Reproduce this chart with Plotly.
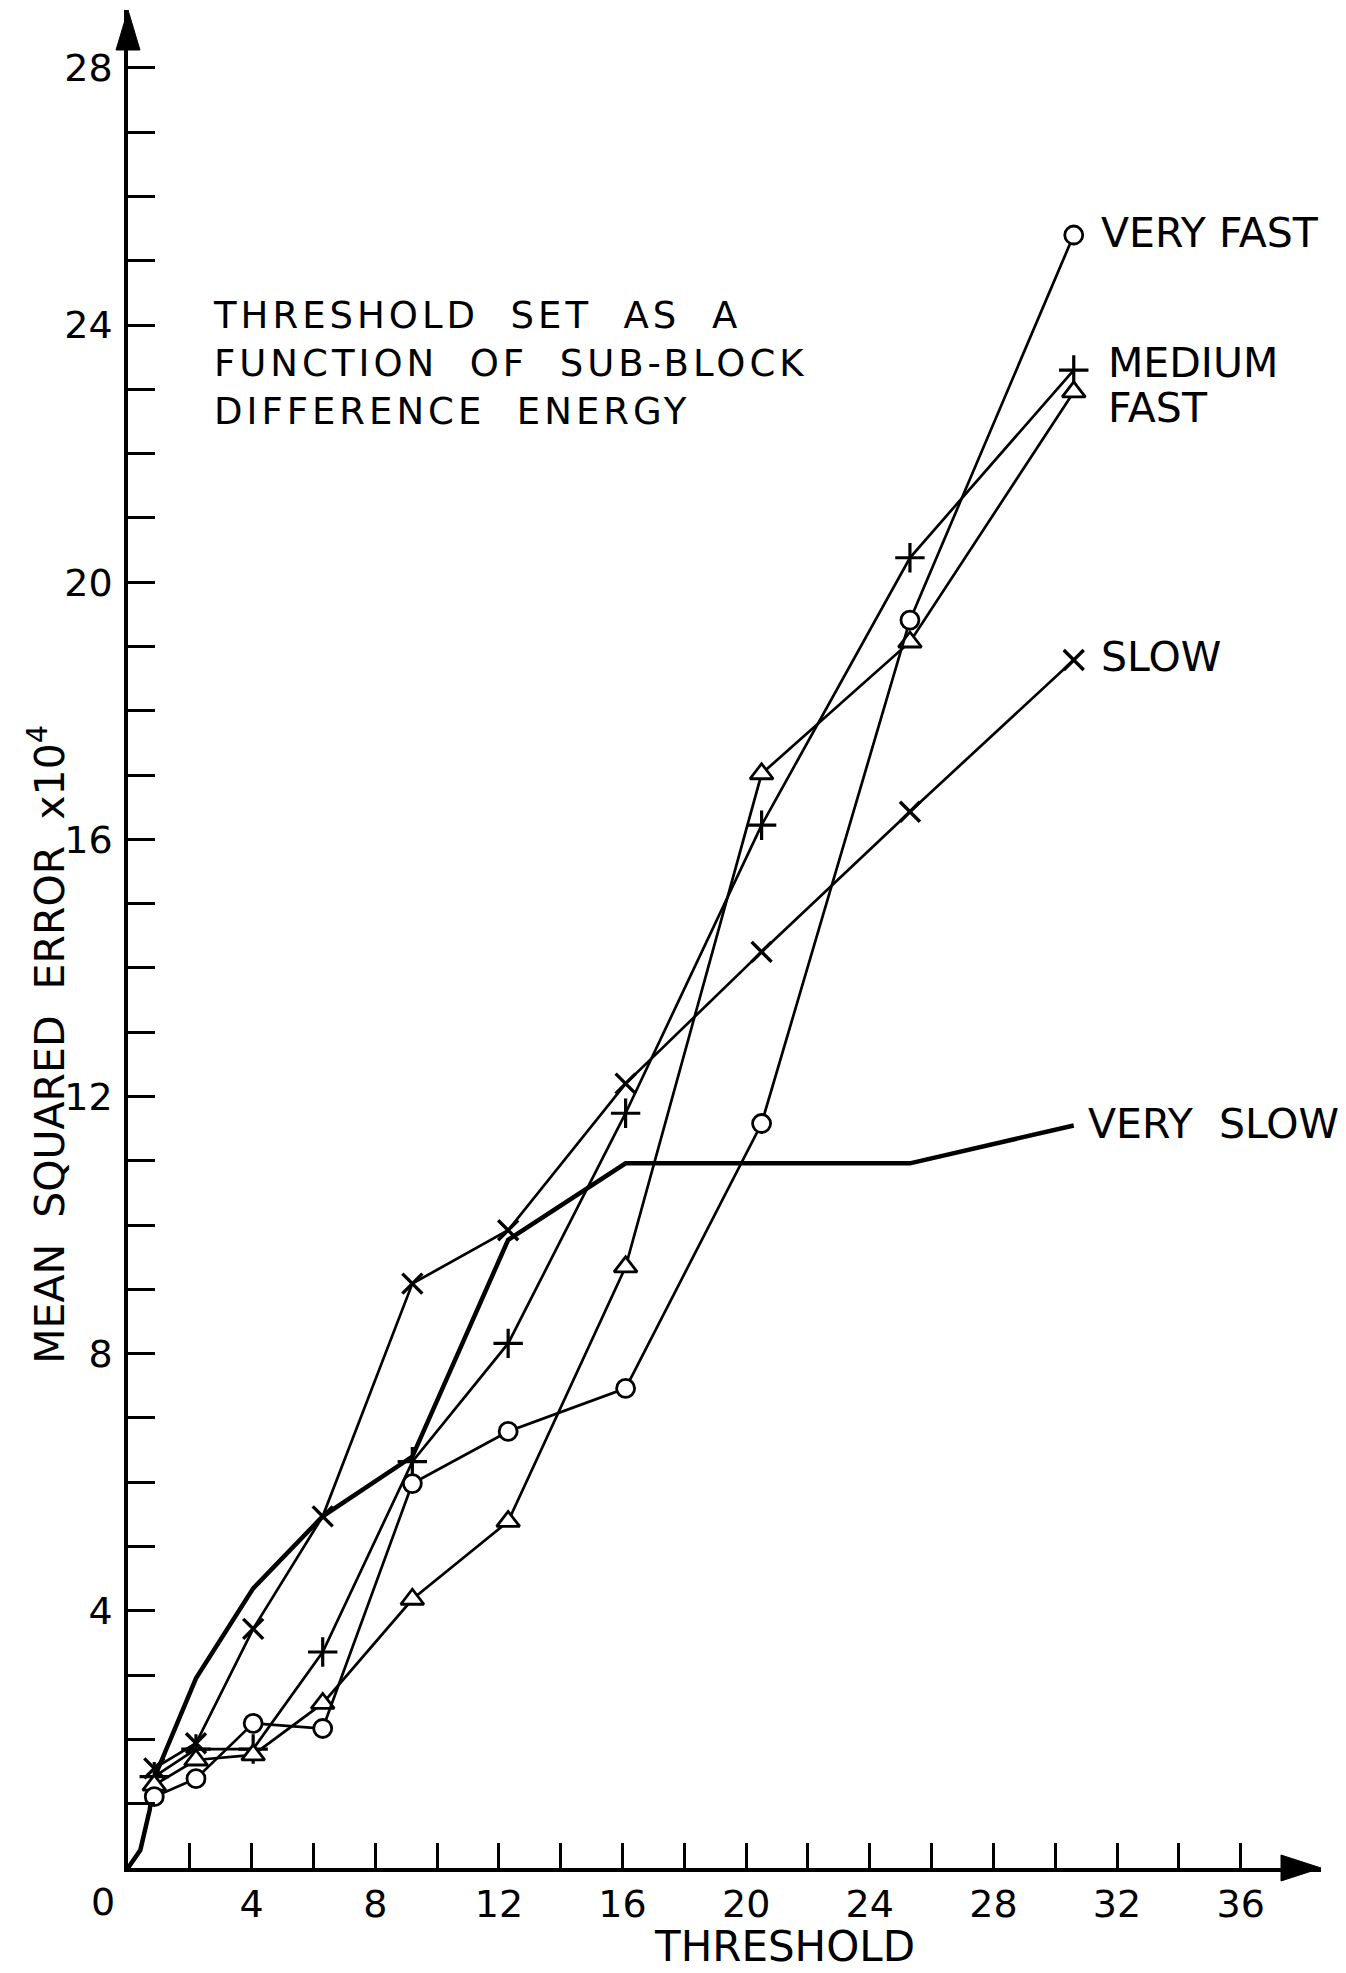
import plotly.graph_objects as go

# ---- data ----
thresholds = [0.85, 2.2, 4.05, 6.3, 9.2, 12.3, 16.1, 20.5, 25.3, 30.6]
very_fast = [1.11, 1.39, 2.25, 2.17, 5.98, 6.79, 7.46, 11.58, 19.41, 25.4]
fast = [1.29, 1.68, 1.76, 2.56, 4.18, 5.39, 9.35, 17.02, 19.07, 22.96]
medium_fast = [1.42, 1.85, 1.85, 3.36, 6.32, 8.16, 11.74, 16.22, 20.38, 23.3]
slow = [1.55, 1.94, 3.72, 5.47, 9.09, 9.92, 12.2, 14.25, 16.43, 18.79]
very_slow_x = [0, 0.4, 0.7, 0.85, 2.2, 4.05, 6.3, 9.2, 12.3, 16.1, 25.3, 30.6]
very_slow_y = [0, 0.28, 0.9, 1.4, 2.95, 4.35, 5.47, 6.4, 9.77, 10.96, 10.96, 11.55]

x_tick_vals = list(range(2, 38, 2))
x_tick_text = [str(v) if v % 4 == 0 else "" for v in x_tick_vals]
y_tick_vals = list(range(1, 29))
y_tick_text = [str(v) if v % 4 == 0 else "" for v in y_tick_vals]

X_MAX = 38.6
Y_MAX = 28.9
FONT = "DejaVu Sans"
INK = "black"

fig = go.Figure()

# very slow: heavy line, no markers
fig.add_trace(go.Scatter(x=very_slow_x, y=very_slow_y, mode="lines",
                         line=dict(color=INK, width=4.5), showlegend=False))

def series(y, symbol, size, fill, lw=2.8):
    fig.add_trace(go.Scatter(
        x=thresholds, y=y, mode="lines+markers",
        line=dict(color=INK, width=2.7),
        marker=dict(symbol=symbol, size=size, color=fill,
                    line=dict(color=INK, width=lw)),
        showlegend=False))

series(slow, "x-thin", 20, INK, 3.4)
series(medium_fast, "cross-thin", 21, INK, 3.2)
series(fast, "triangle-up", 20, "white")
series(very_fast, "circle", 18, "white")

annotations = []

def label(text, x, y, size=41, **kw):
    d = dict(text=text, x=x, y=y, xref="x", yref="y", showarrow=False,
             xanchor="left", yanchor="middle",
             font=dict(family=FONT, size=size, color=INK))
    d.update(kw)
    annotations.append(d)

label("VERY FAST", 31.42, 25.43)
label("MEDIUM", 31.65, 23.41)
label("FAST", 31.65, 22.71)
label("SLOW", 31.42, 18.83)
label("VERY&nbsp;&nbsp;SLOW", 30.99, 11.58)

label('<span style="letter-spacing:4px">THRESHOLD&nbsp; SET&nbsp; AS&nbsp; A<br>'
      'FUNCTION&nbsp; OF&nbsp; SUB-BLOCK<br>DIFFERENCE&nbsp; ENERGY</span>',
      2.69, 23.4, size=37, align="left")

# "0" origin label
annotations.append(dict(text="0", x=0, y=0, xref="x", yref="y", showarrow=False,
                        xanchor="center", yanchor="middle", xshift=-25, yshift=-34,
                        font=dict(family=FONT, size=38, color=INK)))

# axis titles
annotations.append(dict(text="THRESHOLD", x=21.23, y=-0.0565, xref="x", yref="paper",
                        showarrow=False, xanchor="center", yanchor="bottom",
                        font=dict(family=FONT, size=42, color=INK)))
annotations.append(dict(text="MEAN&nbsp; SQUARED&nbsp; ERROR&nbsp; x10<sup>4</sup>",
                        x=-0.068, y=0.4435, xref="paper", yref="paper",
                        showarrow=False, textangle=-90, xanchor="center", yanchor="middle",
                        font=dict(family=FONT, size=41, color=INK)))

shapes = [
    dict(type="path", xref="paper", yref="paper", xsizemode="pixel", ysizemode="pixel",
         xanchor=1, yanchor=0, path="M 0,0 L -40,13 L -40,-13 Z",
         fillcolor=INK, line=dict(color=INK, width=1)),
    dict(type="path", xref="paper", yref="paper", xsizemode="pixel", ysizemode="pixel",
         xanchor=0, yanchor=1, path="M 0,0 L -12,-40 L 12,-40 Z",
         fillcolor=INK, line=dict(color=INK, width=1)),
]

fig.update_layout(
    width=1346, height=1973,
    margin=dict(l=128, r=25, t=10, b=105),
    paper_bgcolor="white", plot_bgcolor="white",
    annotations=annotations, shapes=shapes,
    font=dict(family=FONT, color=INK),
    xaxis=dict(range=[0, X_MAX], showgrid=False, zeroline=False,
               showline=True, linecolor=INK, linewidth=3.5,
               tickmode="array", tickvals=x_tick_vals, ticktext=x_tick_text,
               ticks="inside", ticklen=25, tickwidth=3, tickcolor=INK,
               ticklabelstandoff=0,
               tickfont=dict(family=FONT, size=38, color=INK)),
    yaxis=dict(range=[0, Y_MAX], showgrid=False, zeroline=False,
               showline=True, linecolor=INK, linewidth=3.5,
               tickmode="array", tickvals=y_tick_vals, ticktext=y_tick_text,
               ticks="inside", ticklen=27, tickwidth=3, tickcolor=INK,
               ticklabelstandoff=4,
               tickfont=dict(family=FONT, size=38, color=INK)),
)

fig.write_html("out.html")
